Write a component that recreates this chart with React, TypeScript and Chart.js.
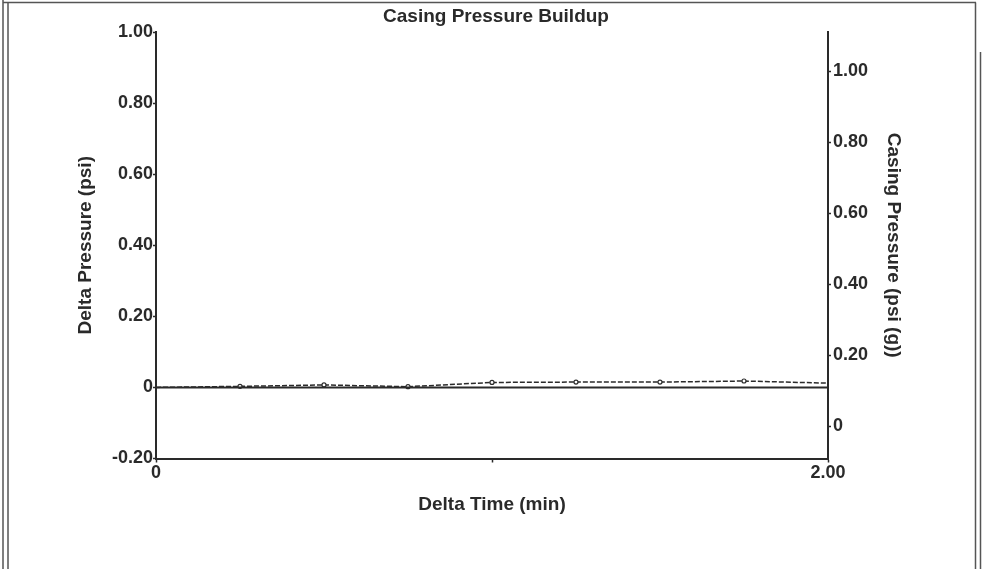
import React, { useEffect, useRef } from "react";
import { Chart, registerables } from "chart.js";

Chart.register(...registerables);

const chartTitle = "Casing Pressure Buildup";
const xTitle = "Delta Time (min)";
const leftTitle = "Delta Pressure (psi)";
const rightTitle = "Casing Pressure (psi (g))";

const deltaTime = [0, 0.25, 0.5, 0.75, 1.0, 1.25, 1.5, 1.75, 2.0];
const deltaPressure = [0, 0, 0, 0, 0, 0, 0, 0, 0];
const casingPressure = [0.110, 0.113, 0.117, 0.112, 0.124, 0.125, 0.125, 0.128, 0.122];

const xTicks = [0, 1, 2];
const xTickLabels = ["0", "", "2.00"];
const leftTicks = [-0.2, 0, 0.2, 0.4, 0.6, 0.8, 1.0];
const leftTickLabels = ["-0.20", "0", "0.20", "0.40", "0.60", "0.80", "1.00"];
const rightTicks = [0, 0.2, 0.4, 0.6, 0.8, 1.0];
const rightTickLabels = ["0", "0.20", "0.40", "0.60", "0.80", "1.00"];

const FONT = "'Liberation Sans', Arial, sans-serif";
const INK = "#2a2a2a";

export default function App() {
  const ref = useRef<HTMLCanvasElement | null>(null);

  useEffect(() => {
    if (!ref.current) return;

    const framePlugin = {
      id: "frame",
      afterDraw(chart: any) {
        const ctx = chart.ctx;
        ctx.save();
        ctx.strokeStyle = "#555";
        ctx.lineWidth = 1.5;
        ctx.beginPath();
        ctx.moveTo(3, 0);
        ctx.lineTo(3, 569);
        ctx.moveTo(8, 3);
        ctx.lineTo(8, 569);
        ctx.moveTo(3, 2.5);
        ctx.lineTo(976, 2.5);
        ctx.moveTo(975.5, 2.5);
        ctx.lineTo(975.5, 569);
        ctx.moveTo(980.5, 52);
        ctx.lineTo(980.5, 569);
        ctx.stroke();
        ctx.font = `bold 19px ${FONT}`;
        ctx.fillStyle = INK;
        ctx.textAlign = "center";
        ctx.textBaseline = "middle";
        ctx.fillText(chartTitle, 496, 17);
        ctx.restore();
      },
    };

    const chart = new Chart(ref.current, {
      type: "line",
      data: {
        datasets: [
          {
            label: "Delta Pressure",
            data: deltaTime.map((t, i) => ({ x: t, y: deltaPressure[i] })),
            borderColor: INK,
            borderWidth: 2,
            pointRadius: 0,
            yAxisID: "y",
          },
          {
            label: "Casing Pressure",
            data: deltaTime.map((t, i) => ({ x: t, y: casingPressure[i] })),
            borderColor: INK,
            borderWidth: 1.5,
            borderDash: [5, 2],
            pointRadius: deltaTime.map((t) => (t > 0 && t < 2 ? 2 : 0)),
            pointBackgroundColor: "#fff",
            pointBorderColor: INK,
            pointBorderWidth: 1.2,
            yAxisID: "y1",
          },
        ],
      },
      options: {
        animation: false,
        responsive: false,
        layout: { padding: { top: 32, left: 0, right: 0, bottom: 0 } },
        plugins: {
          legend: { display: false },
          title: { display: false },
          tooltip: { enabled: false },
        },
        scales: {
          x: {
            type: "linear",
            min: 0,
            max: 2,
            afterBuildTicks: (s: any) => {
              s.ticks = xTicks.map((v) => ({ value: v }));
            },
            afterFit: (s: any) => {
              s.height = 110.5;
            },
            ticks: {
              autoSkip: false,
              maxRotation: 0,
              padding: 0,
              color: INK,
              font: { family: FONT, size: 18, weight: "bold" },
              callback: (v: any) => {
                const i = xTicks.indexOf(Number(v));
                return i >= 0 ? xTickLabels[i] : "";
              },
            },
            grid: { drawOnChartArea: false, tickLength: 4, color: INK, tickWidth: 1.5 },
            border: { display: true, color: INK, width: 2 },
            title: {
              display: true,
              text: xTitle,
              color: INK,
              font: { family: FONT, size: 19, weight: "bold" },
              padding: { top: 0, bottom: 52.6 },
            },
          },
          y: {
            type: "linear",
            position: "left",
            min: -0.2,
            max: 1.0,
            afterBuildTicks: (s: any) => {
              s.ticks = leftTicks.map((v) => ({ value: v }));
            },
            afterFit: (s: any) => {
              s.width = 156;
            },
            ticks: {
              autoSkip: false,
              padding: 0,
              color: INK,
              font: { family: FONT, size: 18, weight: "bold" },
              callback: (v: any) => {
                const i = leftTicks.findIndex((t) => Math.abs(t - Number(v)) < 1e-6);
                return i >= 0 ? leftTickLabels[i] : "";
              },
            },
            grid: { drawOnChartArea: false, tickLength: 3, color: INK, tickWidth: 1.5 },
            border: { display: true, color: INK, width: 2 },
            title: {
              display: true,
              text: leftTitle,
              color: INK,
              font: { family: FONT, size: 19, weight: "bold" },
              padding: { top: 74.6, bottom: 0 },
            },
          },
          y1: {
            type: "linear",
            position: "right",
            min: -0.09,
            max: 1.11,
            afterBuildTicks: (s: any) => {
              s.ticks = rightTicks.map((v) => ({ value: v }));
            },
            afterFit: (s: any) => {
              s.width = 155;
            },
            ticks: {
              autoSkip: false,
              padding: 2,
              color: INK,
              font: { family: FONT, size: 18, weight: "bold" },
              callback: (v: any) => {
                const i = rightTicks.findIndex((t) => Math.abs(t - Number(v)) < 1e-6);
                return i >= 0 ? rightTickLabels[i] : "";
              },
            },
            grid: { drawOnChartArea: false, tickLength: 3, color: INK, tickWidth: 1.5 },
            border: { display: true, color: INK, width: 2 },
            title: {
              display: true,
              text: rightTitle,
              color: INK,
              font: { family: FONT, size: 19, weight: "bold" },
              padding: { top: 78.6, bottom: 0 },
            },
          },
        },
      },
      plugins: [framePlugin],
    } as any);

    return () => chart.destroy();
  }, []);

  return (
    <div style={{ position: "fixed", left: 0, top: 0, width: 983, height: 569, background: "#fff" }}>
      <canvas ref={ref} width={983} height={569} />
    </div>
  );
}
